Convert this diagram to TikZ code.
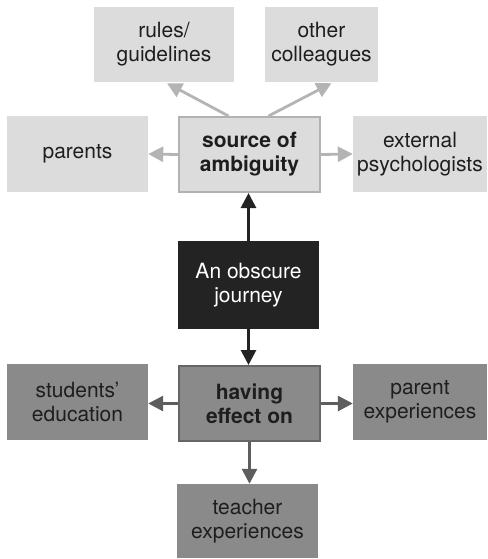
\documentclass[tikz,border=0pt]{standalone}
\usepackage{fontspec}
\setmainfont{TeX Gyre Heros}
\usetikzlibrary{arrows.meta,calc}
\definecolor{lightbox}{HTML}{DCDCDC}
\definecolor{lightedge}{HTML}{B2B2B2}
\definecolor{lightarrow}{HTML}{B4B4B4}
\definecolor{darkbox}{HTML}{8A8A8A}
\definecolor{darkedge}{HTML}{666666}
\definecolor{darkarrow}{HTML}{5E5E5E}
\definecolor{corebox}{HTML}{232323}
\definecolor{ink}{HTML}{1E1E1E}
\begin{document}
\begin{tikzpicture}[x=1pt,y=-1pt,
  every node/.style={font=\fontsize{21}{24}\selectfont, align=center, inner sep=0pt, text=ink},
  lightnode/.style={fill=lightbox, minimum width=#1, minimum height=76pt},
  darknode/.style={fill=darkbox, minimum width=#1, minimum height=76pt},
  hubnode/.style={fill=#1, draw=#1!60!black, line width=2pt, minimum width=141pt, minimum height=75pt, font=\fontsize{21}{24}\selectfont\bfseries},
  tip/.style={-{Triangle[length=15pt,width=15pt]}},
  lightlink/.style={draw=lightarrow, line width=2.8pt, tip},
  darklink/.style={draw=darkarrow, line width=2.8pt, tip},
  corelink/.style={draw=corebox, line width=2.8pt, tip}]
\useasboundingbox (0,0) rectangle (487,559);

% upper half: sources of ambiguity
\node[lightnode=140pt, minimum height=75pt] (rules) at (164,44.5) {rules/\\guidelines};
\node[lightnode=113pt, minimum height=75pt] (coll) at (321.5,44.5) {other\\colleagues};
\node[lightnode=141pt] (parents) at (77.5,154) {parents};
\node[hubnode=lightbox, draw=lightedge] (src) at (249.5,154.5) {source of\\ambiguity};
\node[lightnode=134pt] (ext) at (420,154) {external\\psychologists};

% centre
\node[fill=corebox, minimum width=141pt, minimum height=88pt, text=white] (core) at (248.5,285) {An obscure\\journey};

% lower half: effects
\node[hubnode=darkbox, draw=darkedge] (eff) at (249.5,403.5) {having\\effect on};
\node[darknode=141pt] (stud) at (77.5,402) {students'\\education};
\node[darknode=134pt] (pexp) at (420,402) {parent\\experiences};
\node[darknode=141pt, minimum height=74pt] (texp) at (247.5,521) {teacher\\experiences};

% connectors
\draw[corelink] (core.north) -- (core.north |- src.south);
\draw[corelink] (core.south) -- (core.south |- eff.north);

\draw[lightlink] ($(src.north)+(-21,0)$) -- ($(rules.south)+(3,1)$);
\draw[lightlink] ($(src.north)+(19,0)$) -- ($(coll.south)+(10,1)$);
\draw[lightlink] (src.west) -- (parents.east);
\draw[lightlink] (src.east) -- (ext.west);

\draw[darklink] (eff.west) -- (stud.east |- eff.west);
\draw[darklink] (eff.east) -- (pexp.west |- eff.east);
\draw[darklink] (eff.south) -- (eff.south |- texp.north);
\end{tikzpicture}
\end{document}
